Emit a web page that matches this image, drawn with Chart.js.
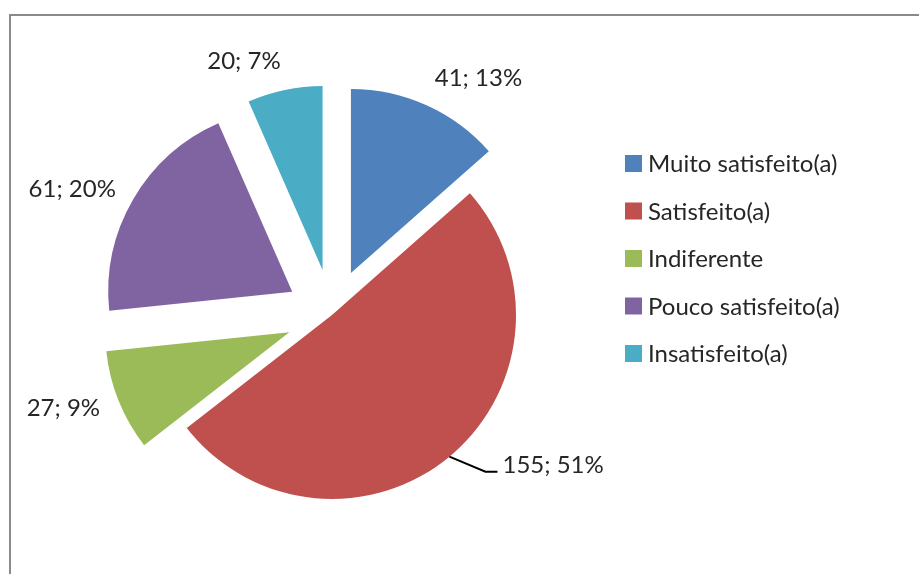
<!DOCTYPE html>
<html>
<head>
<meta charset="utf-8">
<script src="https://cdn.jsdelivr.net/npm/chart.js@4.4.1/dist/chart.umd.min.js"></script>
<style>
    body { margin: 0; background: #fff; }
    #wrap { position: relative; width: 919px; height: 574px; overflow: hidden; }
    #frame {
        position: absolute; left: 9px; top: 14px; width: 1000px; height: 1000px;
        border-top: 2px solid #8a8a8a; border-left: 2px solid #8a8a8a;
    }
    #satisfacaoPie { position: absolute; left: 0; top: 0; }
</style>
</head>
<body>
<div id="wrap">
    <div id="frame"></div>
    <canvas id="satisfacaoPie" width="919" height="574"></canvas>
</div>

<script>
    // respostas por grau de satisfação
    const categorias = ['Muito satisfeito(a)', 'Satisfeito(a)', 'Indiferente', 'Pouco satisfeito(a)', 'Insatisfeito(a)'];
    const respostas = [41, 155, 27, 61, 20];

    const cores = ['#4F81BD', '#C0504D', '#9BBB59', '#8064A2', '#4BACC6'];
    const afastamento = [46, 0, 46, 46, 46];   // slices pulled out of the pie (px)
    const comLinha = [false, true, false, false, false];
    const fonte = '24px Lato, "Open Sans", sans-serif';
    const corTexto = '#262626';

    // pull the exploded slices away from the centre
    const explodePlugin = {
        id: 'explode',
        afterDatasetsUpdate(chart) {
            chart.getDatasetMeta(0).data.forEach(function(arc, i) {
                const mid = (arc.startAngle + arc.endAngle) / 2;
                arc.x += Math.cos(mid) * afastamento[i];
                arc.y += Math.sin(mid) * afastamento[i];
            });
        }
    };

    // "valor; pct%" labels outside each slice
    const rotulosPlugin = {
        id: 'rotulos',
        afterDatasetsDraw(chart) {
            const ctx = chart.ctx;
            const valores = chart.data.datasets[0].data;
            const total = valores.reduce((a, b) => a + b, 0);
            ctx.save();
            ctx.font = fonte;
            ctx.fillStyle = corTexto;
            ctx.textBaseline = 'alphabetic';
            chart.getDatasetMeta(0).data.forEach(function(arc, i) {
                const texto = valores[i] + '; ' + Math.round(valores[i] / total * 100) + '%';
                const mid = (arc.startAngle + arc.endAngle) / 2;
                const cx = Math.cos(mid), cy = Math.sin(mid);
                const r = arc.outerRadius;
                if (comLinha[i]) {
                    const x0 = arc.x + cx * r, y0 = arc.y + cy * r;
                    const x1 = x0 + 36, y1 = y0 + 15;
                    ctx.strokeStyle = '#000';
                    ctx.lineWidth = 2;
                    ctx.beginPath();
                    ctx.moveTo(x0, y0);
                    ctx.lineTo(x1, y1);
                    ctx.lineTo(x1 + 12, y1);
                    ctx.stroke();
                    ctx.textAlign = 'left';
                    ctx.fillText(texto, x1 + 17, y1 + 1);
                    return;
                }
                const gap = 20;
                const ax = arc.x + cx * (r + gap);
                let ay = arc.y + cy * (r + gap);
                if (Math.abs(cy) > 0.9) ay += cy * 10;
                ctx.textAlign = cx >= 0 ? 'left' : 'right';
                ctx.fillText(texto, ax, ay + 8);
            });
            ctx.restore();
        }
    };

    // legend column on the right
    const legendaPlugin = {
        id: 'legenda',
        afterDraw(chart) {
            const ctx = chart.ctx;
            const ds = chart.data.datasets[0];
            ctx.save();
            ctx.font = fonte;
            ctx.fillStyle = corTexto;
            ctx.textAlign = 'left';
            ctx.textBaseline = 'alphabetic';
            chart.data.labels.forEach(function(nome, i) {
                const y = 155 + i * 47.5;
                ctx.fillStyle = ds.backgroundColor[i];
                ctx.fillRect(625, y, 17, 17);
                ctx.fillStyle = corTexto;
                ctx.fillText(nome, 648, y + 17);
            });
            ctx.restore();
        }
    };

    new Chart(document.getElementById('satisfacaoPie'), {
        type: 'pie',
        data: {
            labels: categorias,
            datasets: [{
                data: respostas,
                backgroundColor: cores,
                borderWidth: 0
            }]
        },
        options: {
            responsive: false,
            animation: false,
            events: [],
            radius: 184,
            layout: { padding: { left: 0, right: 255, top: 56, bottom: 0 } },
            plugins: {
                legend: { display: false },
                tooltip: { enabled: false }
            }
        },
        plugins: [explodePlugin, rotulosPlugin, legendaPlugin]
    });
</script>
</body>
</html>
